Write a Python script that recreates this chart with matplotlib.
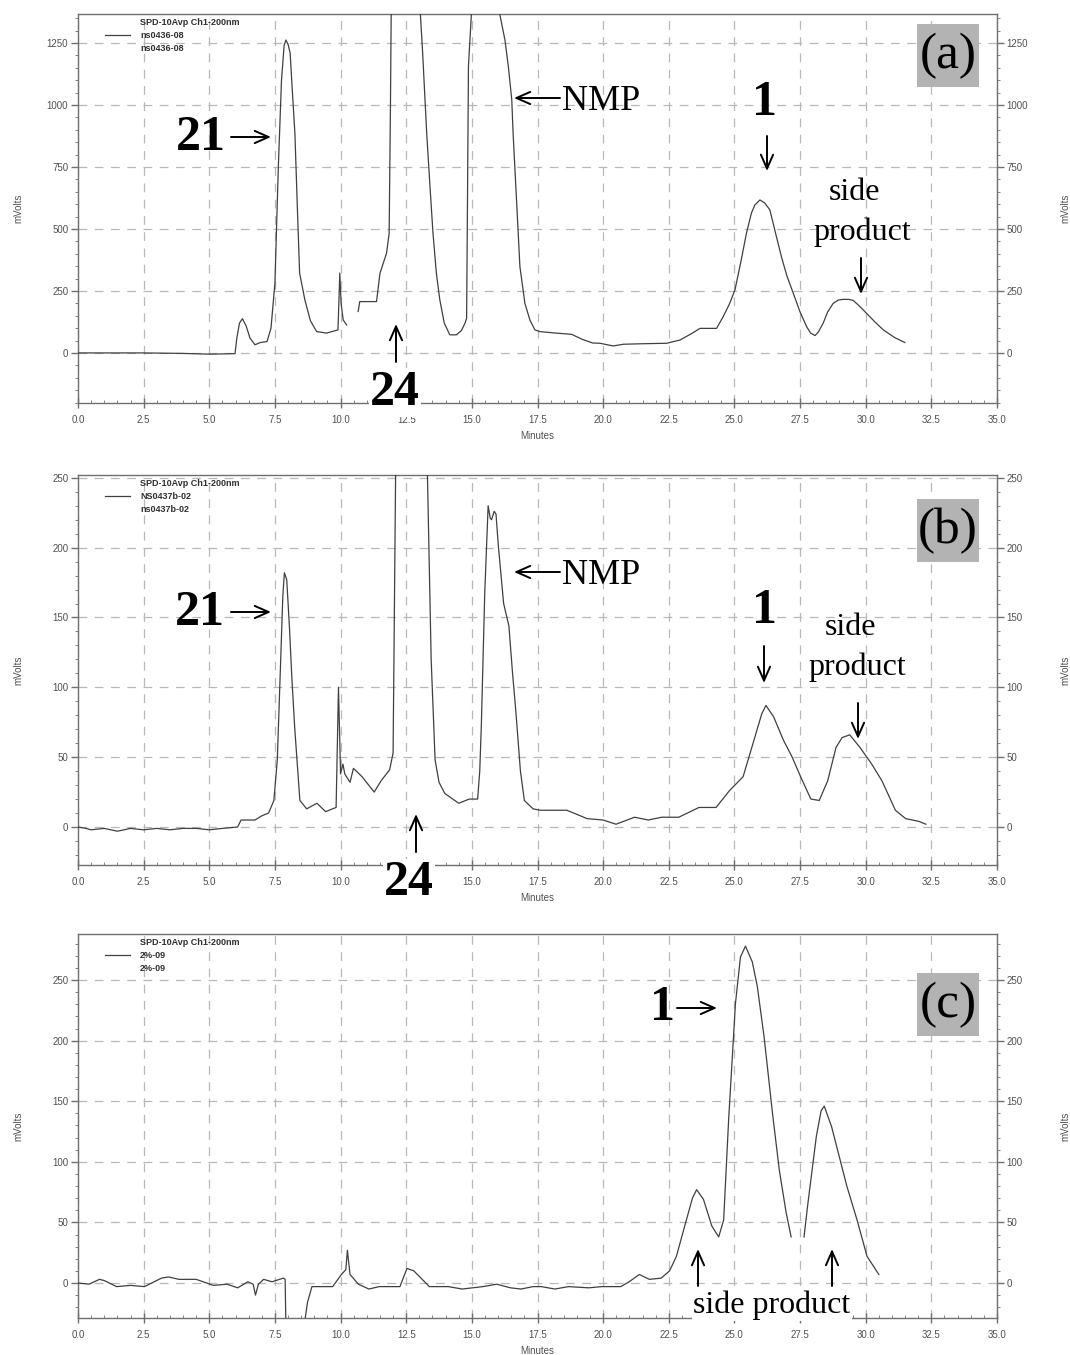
import numpy as np
import matplotlib
matplotlib.use("Agg")
import matplotlib.pyplot as plt
from matplotlib.patches import Rectangle, FancyArrowPatch
from matplotlib.ticker import MultipleLocator

# ---------------- data ----------------
NAN = np.nan
t_a = [0, 2.5, 4.0, 5.0, 5.5, 5.98, 6.05, 6.15, 6.26, 6.4, 6.55, 6.74, 6.95, 7.2, 7.35, 7.5, 7.63, 7.75,
       7.85, 7.92, 8.0, 8.08, 8.15, 8.26, 8.35, 8.44, 8.64, 8.85, 9.09, 9.47, 9.9, 9.95, 9.97, 10.02, 10.1,
       10.23, NAN, 10.67, 10.73, 11.37, 11.5, 11.75, 11.85, 11.9, 11.93, 12.4, 12.6, 13.02, 13.12, 13.28,
       13.4, 13.52, 13.65, 13.78, 13.95, 14.16, 14.41, 14.6, 14.74, 14.8, 14.83, 14.87, 15.0, 15.5, 16.0,
       16.26, 16.39, 16.52, 16.57, 16.7, 16.83, 17.02, 17.21, 17.4, 17.59, 18.2, 18.8, 19.2, 19.6, 19.88,
       20.38, 20.77, 21.5, 22.42, 22.93, 23.4, 23.69, 24.32, 24.57, 24.8, 25.02, 25.25, 25.46, 25.65,
       25.78, 25.97, 26.15, 26.35, 26.55, 26.79, 27.0, 27.24, 27.5, 27.75, 27.9, 28.07, 28.2, 28.38, 28.55,
       28.76, 28.95, 29.14, 29.35, 29.52, 29.75, 30.03, 30.35, 30.67, 31.1, 31.49]
v_a = [0, 0, -2, -5, -4, -3, 60, 120, 138, 110, 60, 33, 42, 46, 100, 281, 751, 1100,
       1240, 1262, 1245, 1209, 1080, 887, 600, 322, 214, 130, 86, 80, 93, 250, 322, 200, 133,
       113, NAN, 167, 207, 207, 321, 402, 482, 1000, 1400, 2500, 2500, 1400, 1222, 887,
       680, 482, 320, 214, 120, 73, 73, 90, 120, 140, 560, 1155, 1400, 2500, 1400,
       1262, 1155, 1021, 887, 619, 348, 200, 133, 93, 86, 80, 75, 55, 40, 39,
       28, 35, 37, 39, 52, 80, 99, 99, 146, 195, 254, 370, 484, 565,
       597, 617, 605, 577, 490, 388, 310, 241, 165, 106, 80, 70, 85, 120, 165,
       200, 213, 216, 216, 212, 190, 160, 125, 93, 62, 42]

t_b = [0, 0.3, 0.5, 1.0, 1.5, 2.0, 2.5, 3.0, 3.5, 4.0, 4.5, 5.0, 5.5, 6.08, 6.21, 6.74, 7.0, 7.26, 7.46,
       7.59, 7.72, 7.8, 7.86, 7.95, 8.05, 8.15, 8.25, 8.45, 8.71, 9.1, 9.43, 9.83, 9.92, 10.0, 10.09,
       10.16, 10.36, 10.49, 10.82, 11.28, 11.54, 11.87, 12.0, 12.1, 12.5, 13.0, 13.3, 13.45, 13.6, 13.75,
       13.97, 14.5, 14.9, 15.22, 15.3, 15.36, 15.49, 15.62, 15.7, 15.75, 15.85, 15.92, 16.01, 16.21,
       16.41, 16.55, 16.67, 16.85, 17.0, 17.33, 17.59, 18.62, 19.39, 20.0, 20.49, 21.2, 21.72, 22.23,
       22.88, 23.65, 24.3, 24.81, 25.33, 25.71, 26.04, 26.2, 26.49, 26.87, 27.2, 27.52, 27.91, 28.23,
       28.55, 28.87, 29.1, 29.39, 29.78, 30.23, 30.62, 31.13, 31.52, 32.03, 32.29]
v_b = [0, -1, -2, -1, -3, -1, -2, -1, -2, -1, -1, -2, -1, 0, 5, 5, 8, 10, 19,
       48, 120, 165, 182, 177, 144, 105, 72, 19, 13, 17, 11, 14, 100, 38, 45,
       38, 32, 42, 36, 25, 33, 41, 53, 260, 400, 400, 260, 120, 48, 32,
       24, 17, 20, 20, 40, 72, 167, 230, 221, 220, 226, 224, 201, 160,
       144, 110, 84, 40, 19, 13, 12, 12, 6, 5, 2, 7, 5, 7,
       7, 14, 14, 26, 36, 60, 81, 87, 79, 62, 50, 36, 20, 19,
       33, 57, 64, 66, 57, 45, 33, 12, 6, 4, 2]

t_c = [0, 0.42, 0.82, 1.0, 1.47, 2.0, 2.53, 3.18, 3.45, 3.84, 4.5, 5.16, 5.68, 6.08, 6.47, 6.67, 6.76,
       6.87, 7.07, 7.39, 7.82, 7.89, 7.92, 7.95, NAN, 8.5, 8.58, 8.74, 8.91, 9.24, 9.7, 10.03, 10.2,
       10.26, 10.36, 10.68, 11.08, 11.47, 12.26, 12.53, 12.79, 13.38, 14.11, 14.63, 15.42, 15.95, 16.47,
       16.87, 17.33, 17.65, 18.16, 18.68, 19.45, 19.96, 20.67, 20.99, 21.38, 21.76, 22.21, 22.53, 22.79,
       23.17, 23.4, 23.56, 23.82, 24.14, 24.4, 24.59, 24.78, 25.04, 25.23, 25.42, 25.68, 25.87, 26.13,
       26.45, 26.71, 26.97, 27.16, NAN, 27.65, 27.8, 28.12, 28.3, 28.42, 28.7, 29.02, 29.28, 29.67,
       30.05, 30.5]
v_c = [0, -1, 3, 2, -3, -2, -3, 4, 5, 3, 3, -2, -1, -4, 1, -1, -10,
       -1, 3, 1, 4, 3, -40, -80, NAN, -80, -40, -16, -3, -3, -3, 7, 11,
       27, 7, -1, -5, -3, -3, 12, 10, -3, -3, -5, -3, -1, -4,
       -5, -3, -3, -5, -3, -4, -3, -3, 1, 7, 3, 4, 10, 22,
       52, 70, 77, 69, 47, 38, 52, 135, 231, 269, 278, 265, 245, 203,
       140, 93, 58, 38, NAN, 38, 66, 121, 142, 146, 129, 102, 80, 52,
       22, 7]

x_ticks = [0, 2.5, 5, 7.5, 10, 12.5, 15, 17.5, 20, 22.5, 25, 27.5, 30, 32.5, 35]
y_ticks_a = [0, 250, 500, 750, 1000, 1250]
y_ticks_b = [0, 50, 100, 150, 200, 250]
y_ticks_c = [0, 50, 100, 150, 200, 250]
legend_names = [("ns0436-08", "ns0436-08"), ("NS0437b-02", "ns0437b-02"), ("2%-09", "2%-09")]
panel_labels = ["(a)", "(b)", "(c)"]

# ---------------- figure ----------------
W, H = 1070, 1355
fig = plt.figure(figsize=(W / 100, H / 100), dpi=100)

def F(x, y):
    return (x / W, 1 - y / H)

def frac_rect(top, bottom):
    return [78 / W, 1 - bottom / H, (997 - 78) / W, (bottom - top) / H]

axes_px = [(14, 403), (475, 865), (934, 1318)]
ylims = [(-202, 1367), (-27.2, 252), (-28.9, 288)]
yminor = [50, 10, 10]
data = [(t_a, v_a), (t_b, v_b), (t_c, v_c)]
yticks = [y_ticks_a, y_ticks_b, y_ticks_c]
box_y = [(24, 87), (499, 562), (973, 1036)]

SERIF = ["Liberation Serif", "DejaVu Serif"]
SANS = ["Liberation Sans", "DejaVu Sans"]
GRID_C = "#b8b8b8"
SPINE_C = "#707070"
TXT_C = "#505050"

axes = []
for i in range(3):
    top, bot = axes_px[i]
    ax = fig.add_axes(frac_rect(top, bot))
    axes.append(ax)
    ax.set_xlim(0, 35)
    ax.set_ylim(*ylims[i])
    ax.set_xticks(x_ticks)
    xl = [f"{v:.1f}" for v in x_ticks]
    if i == 1:
        xl[5] = ""  # hidden under the "24" label in the reference
    ax.set_xticklabels(xl)
    ax.set_yticks(yticks[i])
    ax.xaxis.set_minor_locator(MultipleLocator(0.5))
    ax.yaxis.set_minor_locator(MultipleLocator(yminor[i]))
    ax.grid(True, which="major", color=GRID_C, linestyle=(0, (7, 6)), linewidth=0.9)
    for s in ax.spines.values():
        s.set_color(SPINE_C)
        s.set_linewidth(1.0)
    ax.tick_params(axis="x", which="major", direction="inout", length=7, width=1, colors=SPINE_C,
                   labelcolor=TXT_C, labelsize=7, pad=5)
    ax.tick_params(axis="x", which="minor", direction="in", length=2, width=0.6, colors=SPINE_C)
    ax.tick_params(axis="y", which="major", direction="out", length=5, width=1, colors=SPINE_C,
                   labelcolor=TXT_C, labelsize=7, pad=2, right=True, labelright=True)
    ax.tick_params(axis="y", which="minor", direction="out", length=2.5, width=0.6, colors=SPINE_C,
                   right=True)
    for lab in ax.get_xticklabels() + ax.get_yticklabels():
        lab.set_family(SANS)

    t, v = data[i]
    ax.plot(t, v, color="#404040", linewidth=0.9, zorder=3)

    h = bot - top
    ax.text(0.5, -33 / h, "Minutes", transform=ax.transAxes, ha="center", va="center",
            fontsize=7, color=TXT_C, family=SANS)
    yc = 1 - (top + bot) / 2 / H
    fig.text(18 / W, yc, "mVolts", rotation=90, ha="center", va="center", fontsize=7,
             color=TXT_C, family=SANS)
    fig.text(1065 / W, yc, "mVolts", rotation=90, ha="center", va="center", fontsize=7,
             color=TXT_C, family=SANS)

    # legend block
    leg_y = [0.977, 0.945, 0.911]
    ax.plot([27 / 919, 52 / 919], [leg_y[1], leg_y[1]], transform=ax.transAxes, color="#404040",
            linewidth=0.9)
    for k, s in enumerate(["SPD-10Avp Ch1-200nm", legend_names[i][0], legend_names[i][1]]):
        ax.text(62 / 919, leg_y[k], s, transform=ax.transAxes, ha="left", va="center",
                fontsize=6.5, fontweight="bold", color="#303030", family=SANS)

    # panel label box
    by0, by1 = box_y[i]
    rx0 = (917 - 78) / 919
    rw = 62 / 919
    ry0 = (bot - by1) / h
    rh = (by1 - by0) / h
    ax.add_patch(Rectangle((rx0, ry0), rw, rh, transform=ax.transAxes, facecolor="#b3b3b3",
                           edgecolor="none", zorder=5))
    ax.text(rx0 + rw / 2, ry0 + rh / 2, panel_labels[i], transform=ax.transAxes, ha="center",
            va="center", fontsize=37, family=SERIF, color="black", zorder=6)

big = dict(fontsize=36, fontweight="bold", family=SERIF, color="black", zorder=7)
reg = dict(fontsize=23, family=SERIF, color="black", zorder=7)
wbox = dict(facecolor="white", edgecolor="none", pad=1)


def txt(x, y, s, ha="center", box=False, **kw):
    if box:
        kw["bbox"] = wbox
    fig.text(*F(x, y), s, ha=ha, va="baseline", **kw)


def arrow(x0, y0, x1, y1):
    fig.add_artist(FancyArrowPatch(posA=F(x0, y0), posB=F(x1, y1), transform=fig.transFigure,
                                   arrowstyle="->,head_length=0.5,head_width=0.22",
                                   mutation_scale=20, lw=1.4, color="black",
                                   shrinkA=0, shrinkB=0, zorder=8))


# panel (a)
txt(226, 150, "21", ha="right", **big)
arrow(231, 137, 271, 137)
txt(562, 110, "NMP", ha="left", fontsize=26, family=SERIF, color="black")
arrow(560, 98, 514, 98)
txt(395, 405, "24", box=True, **big)
arrow(396, 362, 396, 324)
txt(765, 115, "1", **big)
arrow(767, 136, 767, 171)
txt(855, 200, "side", **reg)
txt(862, 240, "product", **reg)
arrow(861, 258, 861, 294)

# panel (b)
txt(225, 625, "21", ha="right", **big)
arrow(231, 612, 271, 612)
txt(562, 584, "NMP", ha="left", fontsize=26, family=SERIF, color="black")
arrow(560, 572, 514, 572)
txt(409, 895, "24", box=True, **big)
arrow(416, 852, 416, 814)
txt(764, 623, "1", **big)
arrow(764, 646, 764, 683)
txt(851, 635, "side", **reg)
txt(857, 675, "product", **reg)
arrow(858, 703, 858, 739)

# panel (c)
txt(662, 1020, "1", **big)
arrow(677, 1008, 717, 1008)
arrow(698, 1286, 698, 1249)
arrow(832, 1286, 832, 1249)
txt(772, 1313, "side product", box=True, **reg)

fig.savefig("out.png", dpi=100)
